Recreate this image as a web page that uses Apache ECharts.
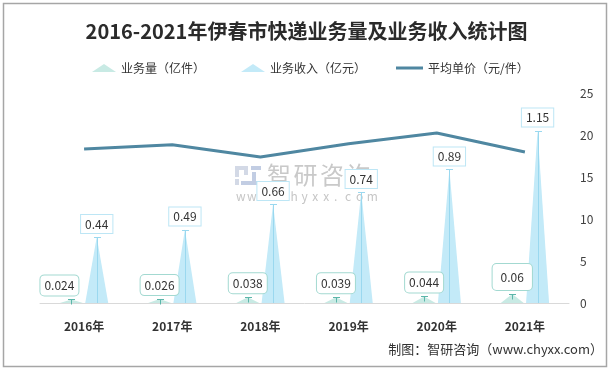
<!DOCTYPE html>
<html>
<head>
<meta charset="utf-8">
<script src="https://cdn.jsdelivr.net/npm/echarts@6/dist/echarts.min.js"></script>
<style>html,body{margin:0;padding:0;background:#fff;}#c{width:613px;height:370px;}</style>
</head>
<body>
<div id="c"></div>
<script>
// ---- data ----
const years = ['2016年', '2017年', '2018年', '2019年', '2020年', '2021年'];
const volume = [0.024, 0.026, 0.038, 0.039, 0.044, 0.06];      // 业务量（亿件）
const revenue = [0.44, 0.49, 0.66, 0.74, 0.89, 1.15];          // 业务收入（亿元）
const avgPrice = [18.33, 18.85, 17.37, 18.97, 20.23, 17.97];   // 平均单价（元/件）
const rightAxis = { min: 0, max: 25, interval: 5 };
const leftAxis = { min: 0, max: 1.4 };

const FONT = '"Noto Sans CJK SC", "Microsoft YaHei", sans-serif';
const BAR_W = 23, GAP = 2.3;
const OFF = (BAR_W + GAP) / 2;

function leader(offset, color, full) {
  return function (params, api) {
    const top = api.coord([api.value(0), api.value(1)]);
    const base = api.coord([api.value(0), 0]);
    const x = Math.round(top[0] + offset) + 0.5;
    const y = Math.round(top[1]) + 0.5;
    return {
      type: 'group', children: [
        { type: 'line', shape: { x1: x - 3.5, y1: y, x2: x + 3.5, y2: y }, style: { stroke: color, lineWidth: 1 } },
        { type: 'line', shape: { x1: x, y1: y, x2: x, y2: full ? base[1] : y + 5 }, style: { stroke: color, lineWidth: 1 } }
      ]
    };
  };
}

const volLabelOffsets = [[-12, 0], [0, 0], [0, 0], [0, 0], [0, 0], [0, 0]];

// watermark glyphs (decoration)
const wmGraphics = [];
'智研咨询'.split('').forEach((ch, i) => {
  wmGraphics.push({ type: 'text', x: 267 + i * 26.5, y: 163, z: -5,
    style: { text: ch, fontFamily: FONT, fontSize: 24, fill: '#c9c9c9' } });
});
'www.chyxx.com'.split('').forEach((ch, i) => {
  wmGraphics.push({ type: 'text', x: 236 + i * 10.9, y: 190, z: -5,
    style: { text: ch, fontFamily: FONT, fontSize: 12, fill: '#c6c6c6' } });
});
[
  { x: 235, y: 166, width: 13, height: 4, fill: '#d3d9e6' },
  { x: 235, y: 166, width: 4, height: 11, fill: '#d3d9e6' },
  { x: 244, y: 166, width: 4, height: 9, fill: '#d3d9e6' },
  { x: 235, y: 179, width: 4, height: 6, fill: '#d3d9e6' },
  { x: 251, y: 166, width: 10, height: 4, fill: '#c2cde3' },
  { x: 241, y: 181, width: 20, height: 4, fill: '#c2cde3' },
  { x: 252, y: 172, width: 4, height: 10, fill: '#c2cde3' }
].forEach(r => wmGraphics.push({ type: 'rect', z: -5,
  shape: { x: r.x, y: r.y, width: r.width, height: r.height }, style: { fill: r.fill } }));

const chart = echarts.init(document.getElementById('c'), null, { renderer: 'canvas' });
chart.setOption({
  backgroundColor: '#fff',
  animation: false,
  title: {
    text: '2016-2021年伊春市快递业务量及业务收入统计图',
    left: 'center', top: 16,
    textStyle: { fontFamily: FONT, fontSize: 20, fontWeight: 'bold', color: '#2b2b2b' }
  },
  legend: [
    {
      top: 57, left: 87,
      itemWidth: 24, itemHeight: 8, itemGap: 36,
      textStyle: { fontFamily: FONT, fontSize: 12, color: '#333' },
      data: [
        { name: '业务量（亿件）', icon: 'triangle' },
        { name: '业务收入（亿元）', icon: 'triangle' }
      ]
    },
    {
      top: 57, left: 391,
      itemWidth: 27, itemHeight: 3, itemGap: 36,
      textStyle: { fontFamily: FONT, fontSize: 12, color: '#333' },
      data: [{ name: '平均单价（元/件）', icon: 'rect', itemStyle: { color: '#4f87a1' } }]
    }
  ],
  grid: { left: 40, right: 44, top: 93, bottom: 67 },
  xAxis: {
    type: 'category', data: years,
    axisLine: { lineStyle: { color: '#d9d9d9' } },
    axisTick: { show: false },
    axisLabel: { margin: 17, fontFamily: FONT, fontSize: 12, fontWeight: 'bold', color: '#333' }
  },
  yAxis: [
    { type: 'value', min: leftAxis.min, max: leftAxis.max, show: false, splitLine: { show: false } },
    {
      type: 'value', position: 'right', min: rightAxis.min, max: rightAxis.max, interval: rightAxis.interval,
      axisLine: { show: false }, axisTick: { show: false }, splitLine: { show: false },
      axisLabel: { margin: 11, fontFamily: FONT, fontSize: 12, color: '#404040' }
    }
  ],
  graphic: [
    { type: 'rect', shape: { x: 3.5, y: 3.5, width: 603, height: 363 }, style: { fill: 'none', stroke: '#a6a6a6', lineWidth: 1.5 }, z: -10 },
    ...wmGraphics,
    { type: 'text', right: 10, top: 343, style: { text: '制图：智研咨询（www.chyxx.com）', fontFamily: FONT, fontSize: 13, fill: '#333' } }
  ],
  series: [
    {
      name: '业务量（亿件）', type: 'pictorialBar', symbol: 'triangle',
      barWidth: BAR_W, barGap: '10%', yAxisIndex: 0,
      itemStyle: { color: '#c8eae4' },
      data: volume.map((v, i) => ({
        value: v,
        label: { offset: volLabelOffsets[i], padding: i === 5 ? [7, 8] : [4, 4] }
      })),
      label: {
        show: true, position: 'top', distance: 4,
        fontFamily: FONT, fontSize: 12, color: '#333',
        backgroundColor: '#fff', borderColor: '#a3d9d1', borderWidth: 1, borderRadius: 4
      },
      z: 3
    },
    {
      name: '业务收入（亿元）', type: 'pictorialBar', symbol: 'triangle',
      barWidth: BAR_W, barGap: '10%', yAxisIndex: 0,
      itemStyle: { color: '#c3eaf8' },
      data: revenue,
      label: {
        show: true, position: 'top', distance: 4,
        fontFamily: FONT, fontSize: 12, color: '#333',
        backgroundColor: '#fff', borderColor: '#bde6f5', borderWidth: 1, padding: [3, 4]
      },
      z: 3
    },
    {
      type: 'custom', yAxisIndex: 0, silent: true, z: 4,
      renderItem: leader(-OFF, '#5cb6aa', false),
      encode: { x: 0, y: 1 },
      data: volume.map((v, i) => [i, v])
    },
    {
      type: 'custom', yAxisIndex: 0, silent: true, z: 4,
      renderItem: leader(OFF, '#9ad8ef', true),
      encode: { x: 0, y: 1 },
      data: revenue.map((v, i) => [i, v])
    },
    {
      name: '平均单价（元/件）', type: 'line', yAxisIndex: 1,
      data: avgPrice, symbol: 'none', showSymbol: false,
      lineStyle: { color: '#4f87a1', width: 3 },
      itemStyle: { color: '#4f87a1' },
      z: 5
    }
  ]
});
</script>
</body>
</html>
